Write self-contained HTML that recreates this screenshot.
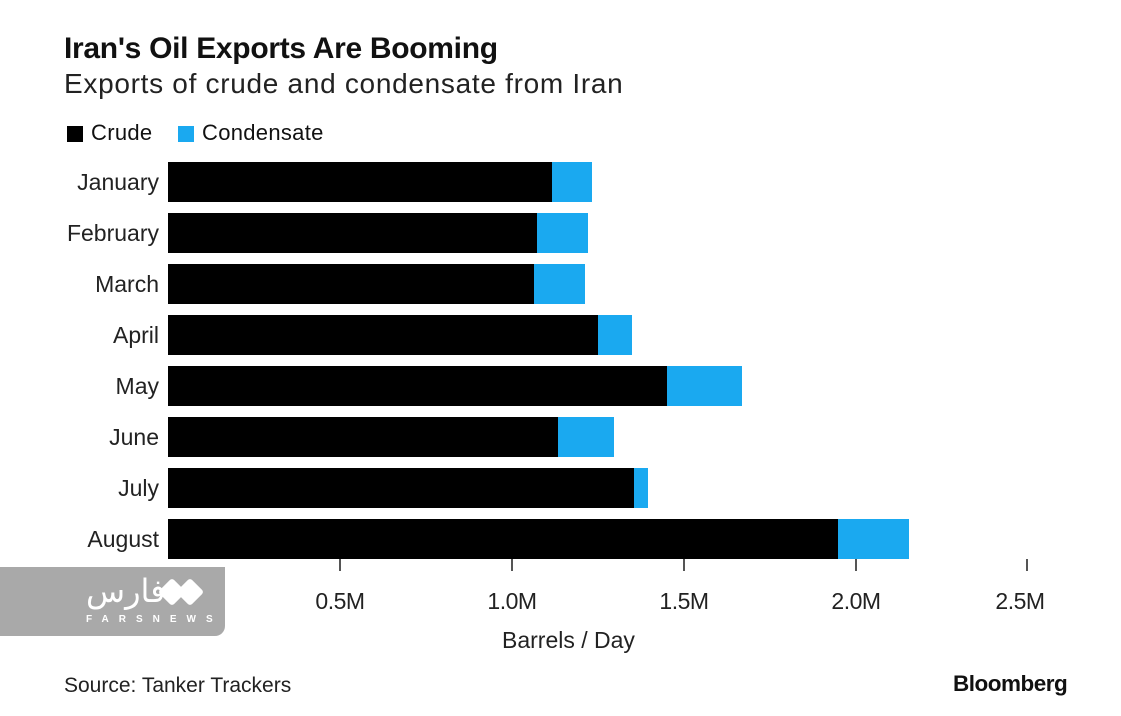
<!DOCTYPE html>
<html><head><meta charset="utf-8"><style>
body{margin:0;width:1121px;height:716px;background:#fff;font-family:"Liberation Sans",Arial,sans-serif;color:#111;position:relative;overflow:hidden}
.a{position:absolute;white-space:nowrap}
.bar{position:absolute;height:40px}
.c{background:#000}.d{background:#1aa9f0}
.lab{position:absolute;right:962px;font-size:23px;line-height:40px;color:#222}
.tk{position:absolute;top:559px;width:2px;height:12px;background:#555}
.tl{position:absolute;top:588px;font-size:23px;width:100px;margin-left:-50px;text-align:center;color:#222;letter-spacing:-0.5px}
</style></head><body>
<div class="a" style="left:64px;top:32px;font-size:30px;font-weight:bold;letter-spacing:-0.3px">Iran's Oil Exports Are Booming</div>
<div class="a" style="left:64px;top:68px;font-size:28px;color:#222;letter-spacing:0.7px">Exports of crude and condensate from Iran</div>
<div class="a" style="left:67px;top:126px;width:16px;height:16px;background:#000"></div>
<div class="a" style="left:91px;top:120px;font-size:22px;letter-spacing:0.3px">Crude</div>
<div class="a" style="left:178px;top:126px;width:16px;height:16px;background:#1aa9f0"></div>
<div class="a" style="left:202px;top:120px;font-size:22px;letter-spacing:0.3px">Condensate</div>

<div class="lab" style="top:162px">January</div>
<div class="bar c" style="top:162px;left:168px;width:384px"></div><div class="bar d" style="top:162px;left:552px;width:40px"></div>
<div class="lab" style="top:213px">February</div>
<div class="bar c" style="top:213px;left:168px;width:369px"></div><div class="bar d" style="top:213px;left:537px;width:51px"></div>
<div class="lab" style="top:264px">March</div>
<div class="bar c" style="top:264px;left:168px;width:366px"></div><div class="bar d" style="top:264px;left:534px;width:51px"></div>
<div class="lab" style="top:315px">April</div>
<div class="bar c" style="top:315px;left:168px;width:430px"></div><div class="bar d" style="top:315px;left:598px;width:34px"></div>
<div class="lab" style="top:366px">May</div>
<div class="bar c" style="top:366px;left:168px;width:499px"></div><div class="bar d" style="top:366px;left:667px;width:75px"></div>
<div class="lab" style="top:417px">June</div>
<div class="bar c" style="top:417px;left:168px;width:390px"></div><div class="bar d" style="top:417px;left:558px;width:56px"></div>
<div class="lab" style="top:468px">July</div>
<div class="bar c" style="top:468px;left:168px;width:466px"></div><div class="bar d" style="top:468px;left:634px;width:14px"></div>
<div class="lab" style="top:519px">August</div>
<div class="bar c" style="top:519px;left:168px;width:670px"></div><div class="bar d" style="top:519px;left:838px;width:71px"></div>

<div class="tk" style="left:339px"></div><div class="tk" style="left:511px"></div><div class="tk" style="left:683px"></div><div class="tk" style="left:855px"></div><div class="tk" style="left:1026px"></div>
<div class="tl" style="left:340px">0.5M</div><div class="tl" style="left:512px">1.0M</div><div class="tl" style="left:684px">1.5M</div><div class="tl" style="left:856px">2.0M</div><div class="tl" style="left:1020px">2.5M</div>
<div class="a" style="left:502px;top:627px;font-size:23px;color:#222">Barrels / Day</div>
<div class="a" style="left:64px;top:674px;font-size:21px;color:#222">Source: Tanker Trackers</div>
<div class="a" style="left:953px;top:671px;font-size:22.5px;font-weight:bold;letter-spacing:-0.5px">Bloomberg</div>

<div class="a" style="left:0;top:567px;width:225px;height:69px;background:#a9a9a9;border-radius:0 0 10px 0"></div>
<div class="a" style="left:86px;top:572px;font-size:32px;color:#fff;font-family:'DejaVu Sans',sans-serif">فارس</div>
<div class="a" style="left:162px;top:582px;width:20px;height:20px;background:#fff;transform:rotate(45deg);border-radius:3px"></div>
<div class="a" style="left:180px;top:582px;width:20px;height:20px;background:#fff;transform:rotate(45deg);border-radius:3px"></div>
<div class="a" style="left:86px;top:614px;font-size:10px;color:#fff;letter-spacing:10px;font-weight:bold">FARSNEWS</div>
</body></html>
